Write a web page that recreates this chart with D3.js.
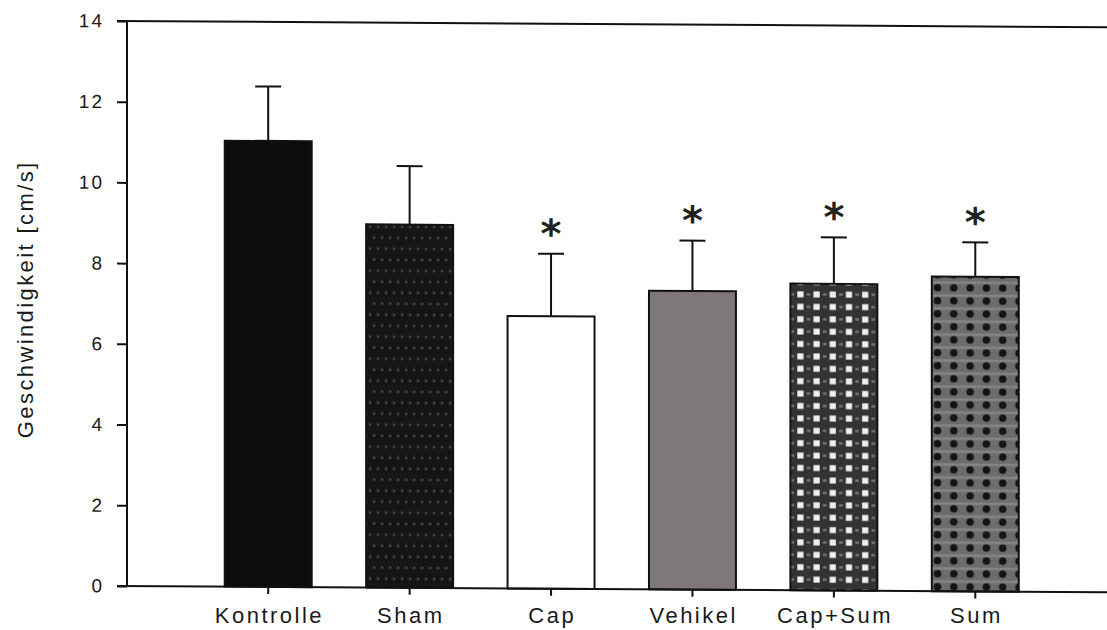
<!DOCTYPE html>
<html>
<head>
<meta charset="utf-8">
<script src="https://cdn.jsdelivr.net/npm/d3@7"></script>
<style>
  html, body { margin: 0; padding: 0; background: #fff; }
  svg { display: block; }
  text { font-family: "Liberation Sans", Arial, sans-serif; fill: #1a1a1a; }
</style>
</head>
<body>
<svg id="chart" width="1107" height="630"></svg>
<script>
// ---- data ----
const categories = ["Kontrolle", "Sham", "Cap", "Vehikel", "Cap+Sum", "Sum"];
const means      = [11.05, 9.0, 6.75, 7.4, 7.6, 7.8];
const errors     = [1.35, 1.45, 1.55, 1.25, 1.15, 0.85];
const significant = [false, false, true, true, true, true];
const yTicks = [0, 2, 4, 6, 8, 10, 12, 14];
const yLabel = "Geschwindigkeit [cm/s]";

// ---- layout ----
const W = 1107, H = 630;
const axisX = 127;
const svg = d3.select("#chart");
svg.append("rect").attr("width", W).attr("height", H).attr("fill", "#fff");

const y = d3.scaleLinear().domain([0, 14]).range([586, 21]);
const x = d3.scaleBand().domain(categories).range([197.5, 1046])
  .paddingInner(0.385).paddingOuter(0.1925);

// slight scan skew
const g = svg.append("g")
  .attr("transform", `translate(${axisX},0) skewY(0.37) translate(${-axisX},0)`);

// ---- patterns ----
const defs = svg.append("defs");
function patX(c) { return x(c); }
// Sham: near black with faint dots
const pSham = defs.append("pattern").attr("id", "pSham")
  .attr("patternUnits", "userSpaceOnUse").attr("width", 16).attr("height", 22)
  .attr("x", patX("Sham")).attr("y", 0);
pSham.append("rect").attr("width", 16).attr("height", 22).attr("fill", "#161616");
[[4, 5], [12, 5], [0, 16], [8, 16], [16, 16]].forEach(([cx, cy]) =>
  pSham.append("circle").attr("cx", cx).attr("cy", cy).attr("r", 1.5).attr("fill", "#444"));

// Cap+Sum: dark with white squares
const pCS = defs.append("pattern").attr("id", "pCS")
  .attr("patternUnits", "userSpaceOnUse").attr("width", 16.2).attr("height", 12.4)
  .attr("x", patX("Cap+Sum") + 10 - 8.1).attr("y", 290 - 6.2);
pCS.append("rect").attr("width", 16.2).attr("height", 12.4).attr("fill", "#333");
pCS.append("rect").attr("x", 5).attr("y", 3.2).attr("width", 6.2).attr("height", 6).attr("fill", "#f0f0f0");
pCS.append("rect").attr("x", 0).attr("y", 5).attr("width", 1.8).attr("height", 2.4).attr("fill", "#777");
pCS.append("rect").attr("x", 14.4).attr("y", 5).attr("width", 1.8).attr("height", 2.4).attr("fill", "#777");

// Sum: grey with black dots
const pSum = defs.append("pattern").attr("id", "pSum")
  .attr("patternUnits", "userSpaceOnUse").attr("width", 16.3).attr("height", 13)
  .attr("x", patX("Sum") + 5.7 - 8.15).attr("y", 3);
pSum.append("rect").attr("width", 16.3).attr("height", 13).attr("fill", "#6c6c6c");
pSum.append("rect").attr("x", 0).attr("y", 0).attr("width", 16.3).attr("height", 2.5).attr("fill", "#858585");
pSum.append("circle").attr("cx", 8.15).attr("cy", 6.5).attr("r", 3.8).attr("fill", "#141414");

const fills = {
  "Kontrolle": "#0c0c0c",
  "Sham": "url(#pSham)",
  "Cap": "#ffffff",
  "Vehikel": "#7e787b",
  "Cap+Sum": "url(#pCS)",
  "Sum": "url(#pSum)"
};

const data = categories.map((c, i) => ({ c, m: means[i], e: errors[i], s: significant[i] }));

// ---- bars ----
g.selectAll("rect.bar").data(data).join("rect")
  .attr("class", "bar")
  .attr("x", d => x(d.c))
  .attr("y", d => y(d.m))
  .attr("width", x.bandwidth())
  .attr("height", d => y(0) - y(d.m))
  .attr("fill", d => fills[d.c])
  .attr("stroke", "#111")
  .attr("stroke-width", 2);

// ---- error bars ----
const cx = d => x(d.c) + x.bandwidth() / 2;
g.selectAll("line.err").data(data).join("line")
  .attr("class", "err")
  .attr("x1", cx).attr("x2", cx)
  .attr("y1", d => y(d.m)).attr("y2", d => y(d.m + d.e))
  .attr("stroke", "#111").attr("stroke-width", 2);
g.selectAll("line.cap").data(data).join("line")
  .attr("class", "cap")
  .attr("x1", d => cx(d) - 13).attr("x2", d => cx(d) + 13)
  .attr("y1", d => y(d.m + d.e)).attr("y2", d => y(d.m + d.e))
  .attr("stroke", "#111").attr("stroke-width", 2);

// ---- significance asterisks ----
g.selectAll("text.sig").data(data.filter(d => d.s)).join("text")
  .attr("class", "sig")
  .attr("x", cx)
  .attr("y", d => y(d.m + d.e) - 6)
  .attr("text-anchor", "middle")
  .style("font-family", "'DejaVu Sans', sans-serif")
  .style("font-size", "40px")
  .style("font-weight", "bold")
  .style("fill", "#222")
  .text("*");

// ---- axes ----
const yAxis = d3.axisLeft(y).tickValues(yTicks).tickSize(10).tickSizeOuter(0).tickPadding(15)
  .tickFormat(d3.format("d"));
const ya = g.append("g").attr("transform", `translate(${axisX},0)`).call(yAxis);
ya.select(".domain").remove();
ya.selectAll(".tick line").attr("stroke", "#111").attr("stroke-width", 2);
ya.selectAll(".tick text")
  .style("font-family", "'Liberation Sans', Arial, sans-serif")
  .style("font-size", "19px").style("letter-spacing", "2px")
  .attr("fill", "#1a1a1a").attr("dx", 2);

// x tick marks (skewed with the plot)
const xa = g.append("g").attr("transform", `translate(0,${y(0)})`)
  .call(d3.axisBottom(x).tickSize(7).tickSizeOuter(0).tickFormat(""));
xa.select(".domain").remove();
xa.selectAll(".tick line").attr("stroke", "#111").attr("stroke-width", 2);

// x tick labels (not skewed)
const xl = svg.append("g").attr("transform", `translate(0,${y(0)})`)
  .call(d3.axisBottom(x).tickSize(0).tickSizeOuter(0).tickPadding(21));
xl.select(".domain").remove();
xl.selectAll(".tick line").remove();
xl.selectAll(".tick text")
  .style("font-family", "'Liberation Sans', Arial, sans-serif")
  .style("font-size", "22px").style("letter-spacing", "2.5px")
  .attr("fill", "#1a1a1a").attr("dx", 1.2);

// axis lines / frame
g.append("line").attr("x1", axisX).attr("x2", axisX).attr("y1", y(14)).attr("y2", y(0))
  .attr("stroke", "#111").attr("stroke-width", 2);
g.append("line").attr("x1", axisX - 10).attr("x2", W).attr("y1", y(0)).attr("y2", y(0))
  .attr("stroke", "#111").attr("stroke-width", 2);
g.append("line").attr("x1", axisX - 10).attr("x2", W).attr("y1", y(14)).attr("y2", y(14))
  .attr("stroke", "#111").attr("stroke-width", 2);

// y label
svg.append("text")
  .attr("transform", `translate(33,${300.5}) rotate(-90)`)
  .attr("text-anchor", "middle")
  .style("font-size", "22px").style("letter-spacing", "2.4px")
  .attr("dx", 1.2)
  .text(yLabel);
</script>
</body>
</html>
